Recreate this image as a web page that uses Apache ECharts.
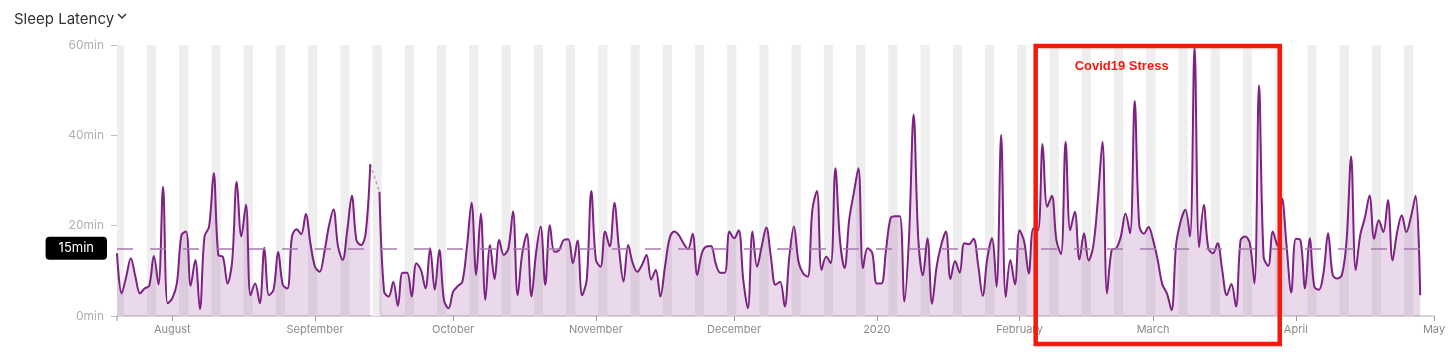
<!DOCTYPE html>
<html>
<head>
<meta charset="utf-8">
<script src="https://cdn.jsdelivr.net/npm/echarts@6/dist/echarts.min.js"></script>
<style>
  html, body { margin: 0; padding: 0; background: #fff; }
  #chart { width: 1456px; height: 354px; }
</style>
</head>
<body>
<div id="chart"></div>
<script>
// daily sleep latency (minutes), one value per night starting 20 Jul 2019
var latency = [
  13.9, 5.0, 8.7, 12.8, 8.7, 5.0, 6.1, 6.7, 13.3, 7.0, 28.6, 2.8, 3.9, 7.2,
  17.9, 18.7, 6.7, 12.4, 1.5, 17.6, 19.8, 31.6, 13.5, 13.1, 7.2, 12.0, 29.7, 17.6,
  24.7, 4.6, 7.2, 2.8, 15.1, 4.6, 5.8, 14.2, 6.9, 6.1, 17.6, 19.2, 18.1, 22.6,
  16.1, 10.9, 9.8, 13.9, 19.8, 23.6, 15.4, 12.4, 19.0, 26.6, 16.8, 15.7, 18.3, 33.6,
  null, 27.5, 5.4, 4.3, 7.6, 2.2, 9.6, 9.6, 4.3, 11.7, 10.2, 6.1, 15.0, 5.8,
  14.6, 3.5, 1.7, 5.4, 6.6, 7.6, 15.4, 25.1, 9.1, 22.7, 3.6, 15.7, 8.2, 16.8,
  13.5, 15.0, 23.2, 4.6, 13.9, 18.2, 4.3, 13.9, 19.8, 6.9, 20.1, 14.2, 14.6, 16.8,
  17.0, 11.7, 16.7, 4.6, 8.0, 27.7, 12.4, 10.9, 18.7, 15.4, 25.1, 15.0, 7.6, 15.7,
  11.7, 9.8, 11.3, 13.5, 8.1, 10.2, 4.3, 10.9, 17.2, 18.7, 17.9, 16.1, 14.8, 18.2,
  9.1, 13.9, 15.4, 15.5, 11.7, 9.6, 9.6, 18.7, 17.2, 19.0, 8.0, 1.7, 18.7, 10.9,
  15.4, 19.6, 13.1, 6.9, 7.6, 2.1, 13.1, 19.8, 12.0, 9.4, 8.7, 23.5, 27.7, 10.2,
  13.1, 11.7, 32.7, 16.8, 10.6, 21.3, 27.2, 32.7, 10.6, 15.0, 14.0, 7.2, 7.2, 14.6,
  21.7, 22.1, 22.1, 3.2, 17.5, 44.6, 17.2, 9.0, 17.2, 2.7, 11.0, 15.8, 18.7, 8.2,
  12.2, 9.6, 16.1, 15.9, 17.1, 11.3, 4.5, 12.8, 17.2, 6.5, 40.1, 4.2, 12.4, 7.0,
  19.0, 16.5, 9.4, 19.4, 19.0, 38.1, 24.2, 26.6, 16.8, 13.7, 38.6, 19.0, 23.1, 12.5,
  18.3, 12.3, 15.4, 25.7, 38.6, 5.0, 14.6, 15.0, 17.6, 22.7, 18.3, 47.6, 20.0, 18.2,
  19.7, 16.8, 12.4, 7.0, 5.0, 1.3, 15.8, 21.0, 23.5, 17.6, 59.6, 15.2, 24.6, 15.0,
  13.9, 16.1, 10.2, 4.6, 7.1, 2.1, 16.8, 17.6, 16.1, 7.2, 51.1, 13.1, 11.1, 18.7,
  15.6, 26.0, 15.4, 5.2, 17.1, 16.8, 6.1, 17.2, 6.5, 5.8, 9.5, 18.3, 9.1, 8.3,
  9.1, 16.5, 35.3, 10.2, 18.0, 21.8, 26.7, 17.1, 21.2, 18.6, 25.7, 12.3, 18.6, 22.3,
  18.6, 22.0, 26.6, 4.6
];
var monthNames = ['January', 'February', 'March', 'April', 'May', 'June', 'July',
  'August', 'September', 'October', 'November', 'December'];
var yTicks = [0, 20, 40, 60];
var targetLatency = 15;
var covidStart = new Date(2020, 1, 4, 12);
var covidEnd = new Date(2020, 2, 28, 12);
var covidLabel = 'Covid19 Stress';

var DAY = 86400000;
var days = latency.map(function (v, i) { return new Date(2019, 6, 20 + i).getTime(); });
var axisStart = days[0];
var axisEnd = new Date(2020, 4, 1).getTime();

var seriesData = days.map(function (d, i) { return [d, latency[i]]; });

// missing night: dashed bridge between the neighbours
var gapData = [];
latency.forEach(function (v, i) {
  if (v === null && i > 0 && i < latency.length - 1) {
    gapData.push([days[i - 1], latency[i - 1]], [days[i + 1], latency[i + 1]]);
  }
});

// weekend bands (Sat + Sun)
var weekendBands = [];
for (var i = 0; i < days.length + 7; i++) {
  var dt = new Date(2019, 6, 20 + i);
  if (dt.getDay() === 6) {
    var a = dt.getTime() - DAY / 2;
    var b = dt.getTime() + DAY * 1.5;
    if (a < axisEnd) {
      weekendBands.push([{ xAxis: Math.max(a, axisStart) }, { xAxis: Math.min(b, axisEnd) }]);
    }
  }
}

var font = 'Inter, "Noto Sans", sans-serif';
var myChart = echarts.init(document.getElementById('chart'));
var option = {
  animation: false,
  title: {
    text: 'Sleep Latency',
    left: 9,
    top: 7,
    textStyle: { fontSize: 15, fontWeight: 'normal', color: '#333', fontFamily: font }
  },
  grid: { left: 117, right: 22, top: 45, bottom: 38 },
  xAxis: {
    type: 'time',
    min: axisStart,
    max: axisEnd,
    splitNumber: 10,
    minInterval: 28 * DAY,
    axisLine: { lineStyle: { color: '#c8c8c8', width: 1.5 } },
    axisTick: { show: true, length: 5, lineStyle: { color: '#999' } },
    splitLine: { show: false },
    axisLabel: {
      color: '#8a8a8a',
      fontSize: 11,
      fontFamily: font,
      margin: 8,
      formatter: function (val) {
        var d = new Date(val);
        return d.getMonth() === 0 ? String(d.getFullYear()) : monthNames[d.getMonth()];
      }
    }
  },
  yAxis: {
    type: 'value',
    min: yTicks[0],
    max: yTicks[yTicks.length - 1],
    interval: yTicks[1] - yTicks[0],
    axisLine: { show: false },
    axisTick: { show: true, length: 6, lineStyle: { color: '#bbb' } },
    splitLine: { show: false },
    axisLabel: {
      color: '#b0b0b0',
      fontSize: 12,
      fontFamily: font,
      margin: 13,
      formatter: '{value}min'
    }
  },
  series: [
    {
      name: 'weekends',
      type: 'line',
      data: [],
      silent: true,
      z: 0,
      markArea: {
        silent: true,
        itemStyle: { color: '#eeeeee' },
        data: weekendBands
      }
    },
    {
      name: 'Sleep Latency',
      type: 'line',
      data: seriesData,
      smooth: 0.35,
      showSymbol: false,
      connectNulls: false,
      z: 3,
      lineStyle: { color: '#7d2182', width: 2 },
      areaStyle: { color: '#7b1f82', opacity: 0.17 },
      markLine: {
        silent: true,
        symbol: 'none',
        lineStyle: { color: '#a67aae', width: 1.5, type: [16, 17] },
        label: {
          show: true,
          position: 'start',
          distance: 10,
          formatter: targetLatency + 'min',
          color: '#fff',
          backgroundColor: '#000',
          borderRadius: 4,
          padding: [5, 13, 5, 13],
          fontSize: 13,
          fontFamily: font
        },
        data: [[{ coord: [axisStart, targetLatency] }, { coord: [days[days.length - 1], targetLatency] }]]
      }
    },
    {
      name: 'gap',
      type: 'line',
      data: gapData,
      showSymbol: false,
      z: 2,
      lineStyle: { color: '#b8a2bd', width: 1.5, type: [3, 3] }
    }
  ]
};
myChart.setOption(option);

// red annotation box around the Covid period
var p0 = myChart.convertToPixel({ gridIndex: 0 }, [covidStart.getTime(), 60]);
var p1 = myChart.convertToPixel({ gridIndex: 0 }, [covidEnd.getTime(), 0]);
var axisOrigin = myChart.convertToPixel({ gridIndex: 0 }, [axisStart, 0]);
myChart.setOption({
  graphic: [
    {
      type: 'rect',
      z: 100,
      shape: { x: p0[0], y: p0[1] + 1, width: p1[0] - p0[0], height: p1[1] - p0[1] + 27 },
      style: { fill: 'none', stroke: '#f5190c', lineWidth: 4.5 }
    },
    {
      type: 'text',
      z: 100,
      x: p0[0] + 39,
      y: p0[1] + 15,
      style: { text: covidLabel, fill: '#f5190c', font: 'bold 13px "Liberation Sans", Arial, sans-serif' }
    },
    {
      type: 'polyline',
      z: 100,
      shape: { points: [[118, 14], [122, 18], [126, 14]] },
      style: { stroke: '#333', lineWidth: 1.5, fill: 'none' }
    },
    {
      // tick at the start of the time axis
      type: 'line',
      z: 100,
      shape: { x1: axisOrigin[0], y1: axisOrigin[1], x2: axisOrigin[0], y2: axisOrigin[1] + 5 },
      style: { stroke: '#999', lineWidth: 1 }
    }
  ]
});
</script>
</body>
</html>
